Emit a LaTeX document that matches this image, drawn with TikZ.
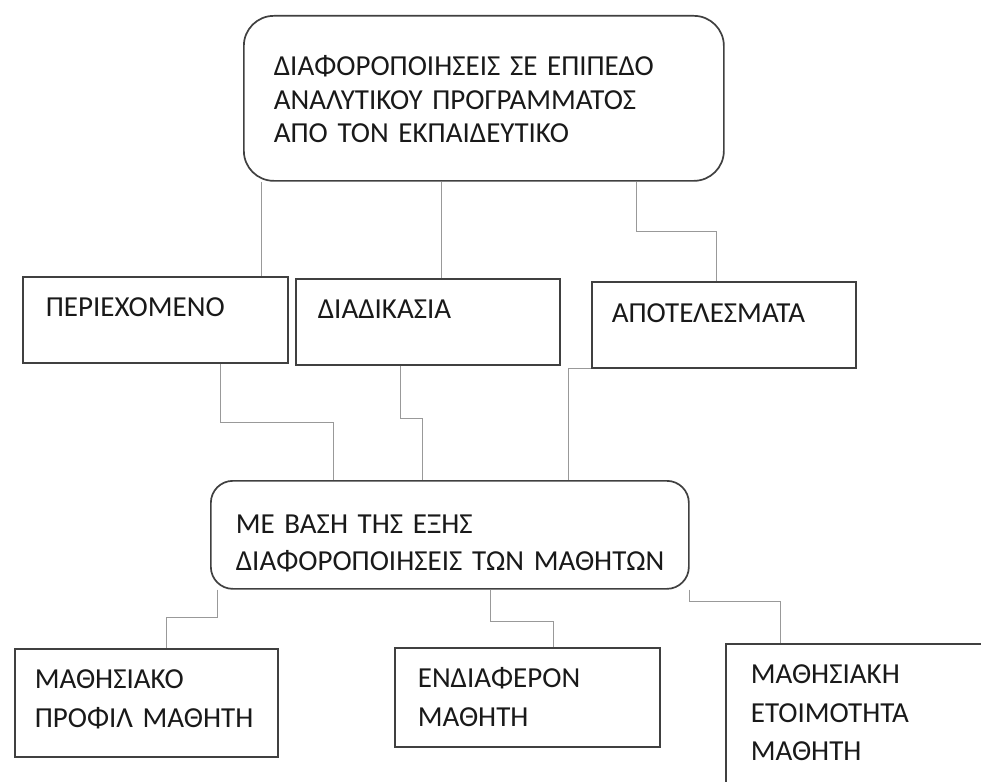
\documentclass[tikz,border=0pt]{standalone}
\usepackage{fontspec}
\setmainfont{Carlito}

\begin{document}
\begin{tikzpicture}[x=1pt,y=-1pt]
\tikzset{
block/.style={rectangle, draw=black!75, line width=1.7pt, inner sep=0pt, anchor=north west,
align=left, text=black!90, font=\fontsize{29}{38.5}\selectfont},
roundblock/.style={block, rounded corners=#1},
lskip/.style={execute at begin node={\leftskip=#1pt\relax}},
link/.style={draw=black!40, line width=1pt},
}
\useasboundingbox (0,0) rectangle (981,781);
\clip (0,0) rectangle (981,781);

\node [roundblock=30pt, lskip=30, text width=480pt, text height=60pt, text depth=105pt,
font=\fontsize{29}{33.5}\selectfont] (top) at (243,15)
{ΔΙΑΦΟΡΟΠΟΙΗΣΕΙΣ ΣΕ ΕΠΙΠΕΔΟ\\ΑΝΑΛΥΤΙΚΟΥ ΠΡΟΓΡΑΜΜΑΤΟΣ\\ΑΠΟ ΤΟΝ ΕΚΠΑΙΔΕΥΤΙΚΟ};
\node [block, lskip=23, text width=265pt, text height=40pt, text depth=46pt] (perie) at (22,276) {ΠΕΡΙΕΧΟΜΕΝΟ};
\node [block, lskip=22, text width=264pt, text height=40pt, text depth=46pt] (diad) at (295,278) {ΔΙΑΔΙΚΑΣΙΑ};
\node [block, lskip=20, text width=264pt, text height=41pt, text depth=45pt] (apot) at (591,281) {ΑΠΟΤΕΛΕΣΜΑΤΑ};
\node [roundblock=22pt, lskip=25, text width=478pt, text height=53pt, text depth=55pt,
font=\fontsize{29}{37}\selectfont] (base) at (210,480)
{ΜΕ ΒΑΣΗ ΤΗΣ ΕΞΗΣ\\ΔΙΑΦΟΡΟΠΟΙΗΣΕΙΣ ΤΩΝ ΜΑΘΗΤΩΝ};
\node [block, lskip=20, text width=263pt, text height=40pt, text depth=68pt] (mprof) at (14,648) {ΜΑΘΗΣΙΑΚΟ\\ΠΡΟΦΙΛ ΜΑΘΗΤΗ};
\node [block, lskip=23, text width=265pt, text height=40pt, text depth=59pt] (endia) at (394,647) {ΕΝΔΙΑΦΕΡΟΝ\\ΜΑΘΗΤΗ};
\node [block, lskip=25, text width=300pt, text height=40pt, text depth=160pt] (etoim) at (725,643) {ΜΑΘΗΣΙΑΚΗ\\ΕΤΟΙΜΟΤΗΤΑ\\ΜΑΘΗΤΗ};

\draw[link] ([xshift=18]top.south west) -- ([xshift=239]perie.north west);
\draw[link] ([xshift=198]top.south west) -- ([xshift=146]diad.north west);
\draw[link] ([xshift=393]top.south west) |- ([xshift=125,yshift=50]apot.north west) -- ([xshift=125]apot.north west);
\draw[link] ([xshift=198]perie.south west) |- ([xshift=123,yshift=58]base.north west) -- ([xshift=123]base.north west);
\draw[link] ([xshift=105]diad.south west) |- ([xshift=212,yshift=62]base.north west) -- ([xshift=212]base.north west);
\draw[link] (apot.south west) -| ([xshift=358]base.north west);
\draw[link] ([xshift=7]base.south west) |- ([xshift=152,yshift=31]mprof.north west) -- ([xshift=152]mprof.north west);
\draw[link] ([xshift=280]base.south west) |- ([xshift=159,yshift=26]endia.north west) -- ([xshift=159]endia.north west);
\draw[link] (base.south east) |- ([xshift=55,yshift=42]etoim.north west) -- ([xshift=55]etoim.north west);
\end{tikzpicture}
\end{document}
